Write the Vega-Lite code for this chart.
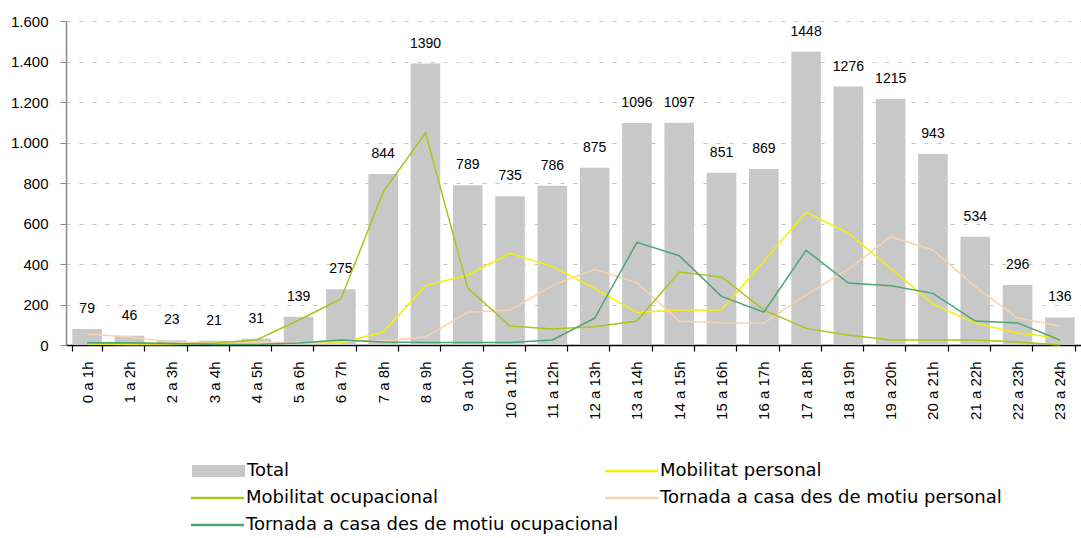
{
  "$schema": "https://vega.github.io/schema/vega-lite/v6.json",
  "width": 1015,
  "height": 324,
  "autosize": "none",
  "padding": {"left": 66, "top": 21, "right": 0, "bottom": 193},
  "config": {
    "locale": {"number": {"decimal": ",", "thousands": ".", "grouping": [3], "currency": ["", " €"]}},
    "view": {"stroke": null},
    "font": "Liberation Sans"
  },
  "data": {"values": [
    {"h":"0 a 1h","s":"Total","v":79},{"h":"1 a 2h","s":"Total","v":46},{"h":"2 a 3h","s":"Total","v":23},{"h":"3 a 4h","s":"Total","v":21},{"h":"4 a 5h","s":"Total","v":31},{"h":"5 a 6h","s":"Total","v":139},{"h":"6 a 7h","s":"Total","v":275},{"h":"7 a 8h","s":"Total","v":844},{"h":"8 a 9h","s":"Total","v":1390},{"h":"9 a 10h","s":"Total","v":789},{"h":"10 a 11h","s":"Total","v":735},{"h":"11 a 12h","s":"Total","v":786},{"h":"12 a 13h","s":"Total","v":875},{"h":"13 a 14h","s":"Total","v":1096},{"h":"14 a 15h","s":"Total","v":1097},{"h":"15 a 16h","s":"Total","v":851},{"h":"16 a 17h","s":"Total","v":869},{"h":"17 a 18h","s":"Total","v":1448},{"h":"18 a 19h","s":"Total","v":1276},{"h":"19 a 20h","s":"Total","v":1215},{"h":"20 a 21h","s":"Total","v":943},{"h":"21 a 22h","s":"Total","v":534},{"h":"22 a 23h","s":"Total","v":296},{"h":"23 a 24h","s":"Total","v":136},
    {"h":"0 a 1h","s":"Mobilitat personal","v":5},{"h":"1 a 2h","s":"Mobilitat personal","v":3},{"h":"2 a 3h","s":"Mobilitat personal","v":2},{"h":"3 a 4h","s":"Mobilitat personal","v":5},{"h":"4 a 5h","s":"Mobilitat personal","v":8},{"h":"5 a 6h","s":"Mobilitat personal","v":10},{"h":"6 a 7h","s":"Mobilitat personal","v":10},{"h":"7 a 8h","s":"Mobilitat personal","v":64},{"h":"8 a 9h","s":"Mobilitat personal","v":293},{"h":"9 a 10h","s":"Mobilitat personal","v":346},{"h":"10 a 11h","s":"Mobilitat personal","v":453},{"h":"11 a 12h","s":"Mobilitat personal","v":387},{"h":"12 a 13h","s":"Mobilitat personal","v":280},{"h":"13 a 14h","s":"Mobilitat personal","v":160},{"h":"14 a 15h","s":"Mobilitat personal","v":173},{"h":"15 a 16h","s":"Mobilitat personal","v":173},{"h":"16 a 17h","s":"Mobilitat personal","v":415},{"h":"17 a 18h","s":"Mobilitat personal","v":656},{"h":"18 a 19h","s":"Mobilitat personal","v":552},{"h":"19 a 20h","s":"Mobilitat personal","v":379},{"h":"20 a 21h","s":"Mobilitat personal","v":202},{"h":"21 a 22h","s":"Mobilitat personal","v":108},{"h":"22 a 23h","s":"Mobilitat personal","v":59},{"h":"23 a 24h","s":"Mobilitat personal","v":35},
    {"h":"0 a 1h","s":"Mobilitat ocupacional","v":11},{"h":"1 a 2h","s":"Mobilitat ocupacional","v":9},{"h":"2 a 3h","s":"Mobilitat ocupacional","v":5},{"h":"3 a 4h","s":"Mobilitat ocupacional","v":10},{"h":"4 a 5h","s":"Mobilitat ocupacional","v":25},{"h":"5 a 6h","s":"Mobilitat ocupacional","v":122},{"h":"6 a 7h","s":"Mobilitat ocupacional","v":227},{"h":"7 a 8h","s":"Mobilitat ocupacional","v":756},{"h":"8 a 9h","s":"Mobilitat ocupacional","v":1047},{"h":"9 a 10h","s":"Mobilitat ocupacional","v":281},{"h":"10 a 11h","s":"Mobilitat ocupacional","v":94},{"h":"11 a 12h","s":"Mobilitat ocupacional","v":79},{"h":"12 a 13h","s":"Mobilitat ocupacional","v":90},{"h":"13 a 14h","s":"Mobilitat ocupacional","v":118},{"h":"14 a 15h","s":"Mobilitat ocupacional","v":360},{"h":"15 a 16h","s":"Mobilitat ocupacional","v":336},{"h":"16 a 17h","s":"Mobilitat ocupacional","v":173},{"h":"17 a 18h","s":"Mobilitat ocupacional","v":82},{"h":"18 a 19h","s":"Mobilitat ocupacional","v":49},{"h":"19 a 20h","s":"Mobilitat ocupacional","v":25},{"h":"20 a 21h","s":"Mobilitat ocupacional","v":25},{"h":"21 a 22h","s":"Mobilitat ocupacional","v":25},{"h":"22 a 23h","s":"Mobilitat ocupacional","v":15},{"h":"23 a 24h","s":"Mobilitat ocupacional","v":0},
    {"h":"0 a 1h","s":"Tornada a casa des de motiu personal","v":54},{"h":"1 a 2h","s":"Tornada a casa des de motiu personal","v":40},{"h":"2 a 3h","s":"Tornada a casa des de motiu personal","v":15},{"h":"3 a 4h","s":"Tornada a casa des de motiu personal","v":12},{"h":"4 a 5h","s":"Tornada a casa des de motiu personal","v":15},{"h":"5 a 6h","s":"Tornada a casa des de motiu personal","v":12},{"h":"6 a 7h","s":"Tornada a casa des de motiu personal","v":20},{"h":"7 a 8h","s":"Tornada a casa des de motiu personal","v":20},{"h":"8 a 9h","s":"Tornada a casa des de motiu personal","v":40},{"h":"9 a 10h","s":"Tornada a casa des de motiu personal","v":162},{"h":"10 a 11h","s":"Tornada a casa des de motiu personal","v":173},{"h":"11 a 12h","s":"Tornada a casa des de motiu personal","v":293},{"h":"12 a 13h","s":"Tornada a casa des de motiu personal","v":374},{"h":"13 a 14h","s":"Tornada a casa des de motiu personal","v":308},{"h":"14 a 15h","s":"Tornada a casa des de motiu personal","v":118},{"h":"15 a 16h","s":"Tornada a casa des de motiu personal","v":110},{"h":"16 a 17h","s":"Tornada a casa des de motiu personal","v":108},{"h":"17 a 18h","s":"Tornada a casa des de motiu personal","v":247},{"h":"18 a 19h","s":"Tornada a casa des de motiu personal","v":374},{"h":"19 a 20h","s":"Tornada a casa des de motiu personal","v":535},{"h":"20 a 21h","s":"Tornada a casa des de motiu personal","v":469},{"h":"21 a 22h","s":"Tornada a casa des de motiu personal","v":288},{"h":"22 a 23h","s":"Tornada a casa des de motiu personal","v":133},{"h":"23 a 24h","s":"Tornada a casa des de motiu personal","v":94},
    {"h":"0 a 1h","s":"Tornada a casa des de motiu ocupacional","v":11},{"h":"1 a 2h","s":"Tornada a casa des de motiu ocupacional","v":11},{"h":"2 a 3h","s":"Tornada a casa des de motiu ocupacional","v":8},{"h":"3 a 4h","s":"Tornada a casa des de motiu ocupacional","v":3},{"h":"4 a 5h","s":"Tornada a casa des de motiu ocupacional","v":2},{"h":"5 a 6h","s":"Tornada a casa des de motiu ocupacional","v":10},{"h":"6 a 7h","s":"Tornada a casa des de motiu ocupacional","v":25},{"h":"7 a 8h","s":"Tornada a casa des de motiu ocupacional","v":15},{"h":"8 a 9h","s":"Tornada a casa des de motiu ocupacional","v":12},{"h":"9 a 10h","s":"Tornada a casa des de motiu ocupacional","v":12},{"h":"10 a 11h","s":"Tornada a casa des de motiu ocupacional","v":12},{"h":"11 a 12h","s":"Tornada a casa des de motiu ocupacional","v":25},{"h":"12 a 13h","s":"Tornada a casa des de motiu ocupacional","v":132},{"h":"13 a 14h","s":"Tornada a casa des de motiu ocupacional","v":507},{"h":"14 a 15h","s":"Tornada a casa des de motiu ocupacional","v":441},{"h":"15 a 16h","s":"Tornada a casa des de motiu ocupacional","v":240},{"h":"16 a 17h","s":"Tornada a casa des de motiu ocupacional","v":162},{"h":"17 a 18h","s":"Tornada a casa des de motiu ocupacional","v":468},{"h":"18 a 19h","s":"Tornada a casa des de motiu ocupacional","v":306},{"h":"19 a 20h","s":"Tornada a casa des de motiu ocupacional","v":293},{"h":"20 a 21h","s":"Tornada a casa des de motiu ocupacional","v":255},{"h":"21 a 22h","s":"Tornada a casa des de motiu ocupacional","v":118},{"h":"22 a 23h","s":"Tornada a casa des de motiu ocupacional","v":109},{"h":"23 a 24h","s":"Tornada a casa des de motiu ocupacional","v":25}
  ]},
  "encoding": {
    "x": {
      "field": "h", "type": "nominal", "sort": null,
      "scale": {"paddingInner": 0.3, "paddingOuter": 0.15},
      "axis": {
        "title": null, "labelAngle": 270, "labelAlign": "right", "labelBaseline": "middle",
        "labelFontSize": 15, "labelColor": "#000", "labelPadding": 10,
        "domainColor": "#000", "domainWidth": 1.5, "tickColor": "#000", "tickSize": 6, "tickWidth": 1.2,
        "tickBand": "extent", "grid": false
      }
    },
    "y": {
      "field": "v", "type": "quantitative",
      "scale": {"domain": [0, 1600], "nice": false},
      "axis": {
        "title": null, "values": [0, 200, 400, 600, 800, 1000, 1200, 1400, 1600], "format": ",d",
        "labelFontSize": 15, "labelColor": "#000", "labelPadding": 12,
        "domainColor": "#888", "domainWidth": 1.5, "tickColor": "#888", "tickSize": 6,
        "grid": true, "gridColor": "#c4c4c4", "gridDash": [4, 9], "gridWidth": 1
      }
    }
  },
  "layer": [
    {
      "transform": [{"filter": "datum.s == 'Total'"}],
      "mark": {"type": "bar"},
      "encoding": {
        "fill": {
          "field": "s", "type": "nominal",
          "scale": {"domain": ["Total"], "range": ["#c8c8c8"]},
          "legend": {
            "orient": "none", "legendX": 122, "legendY": 441, "title": null, "padding": 0,
            "symbolType": "M-1,-1.2H9.6V1.2H-1Z", "symbolSize": 100, "symbolStrokeWidth": 0,
            "labelOffset": 41, "labelFontSize": 18, "labelFont": "DejaVu Sans", "labelLimit": 600, "labelColor": "#000",
            "rowPadding": 9
          }
        }
      }
    },
    {
      "transform": [{"filter": "datum.s == 'Total'"}],
      "mark": {"type": "text", "dy": -16, "baseline": "alphabetic", "fontSize": 14, "color": "#000", "font": "Liberation Sans"},
      "encoding": {"text": {"field": "v", "type": "quantitative", "format": "d"}}
    },
    {
      "transform": [{"filter": "datum.s == 'Mobilitat personal' || datum.s == 'Tornada a casa des de motiu personal'"}],
      "mark": {"type": "line", "strokeWidth": 1.5},
      "encoding": {
        "color": {
          "field": "s", "type": "nominal",
          "scale": {"domain": ["Mobilitat personal", "Tornada a casa des de motiu personal"], "range": ["#f2f200", "#fbd2ac"]},
          "legend": {
            "orient": "none", "legendX": 535, "legendY": 441, "title": null, "padding": 0,
            "symbolType": "M-1,0H9.6", "symbolSize": 100, "symbolStrokeWidth": 2.5,
            "labelOffset": 41, "labelFontSize": 18, "labelFont": "DejaVu Sans", "labelLimit": 600, "labelColor": "#000",
            "rowPadding": 9
          }
        }
      }
    },
    {
      "transform": [{"filter": "datum.s == 'Mobilitat ocupacional' || datum.s == 'Tornada a casa des de motiu ocupacional'"}],
      "mark": {"type": "line", "strokeWidth": 1.5},
      "encoding": {
        "stroke": {
          "field": "s", "type": "nominal",
          "scale": {"domain": ["Mobilitat ocupacional", "Tornada a casa des de motiu ocupacional"], "range": ["#a6c61a", "#4ba474"]},
          "legend": {
            "orient": "none", "legendX": 121, "legendY": 468, "title": null, "padding": 0,
            "symbolType": "M-1,0H9.6", "symbolSize": 100, "symbolStrokeWidth": 2.5,
            "labelOffset": 41, "labelFontSize": 18, "labelFont": "DejaVu Sans", "labelLimit": 600, "labelColor": "#000",
            "rowPadding": 9
          }
        }
      }
    }
  ]
}
